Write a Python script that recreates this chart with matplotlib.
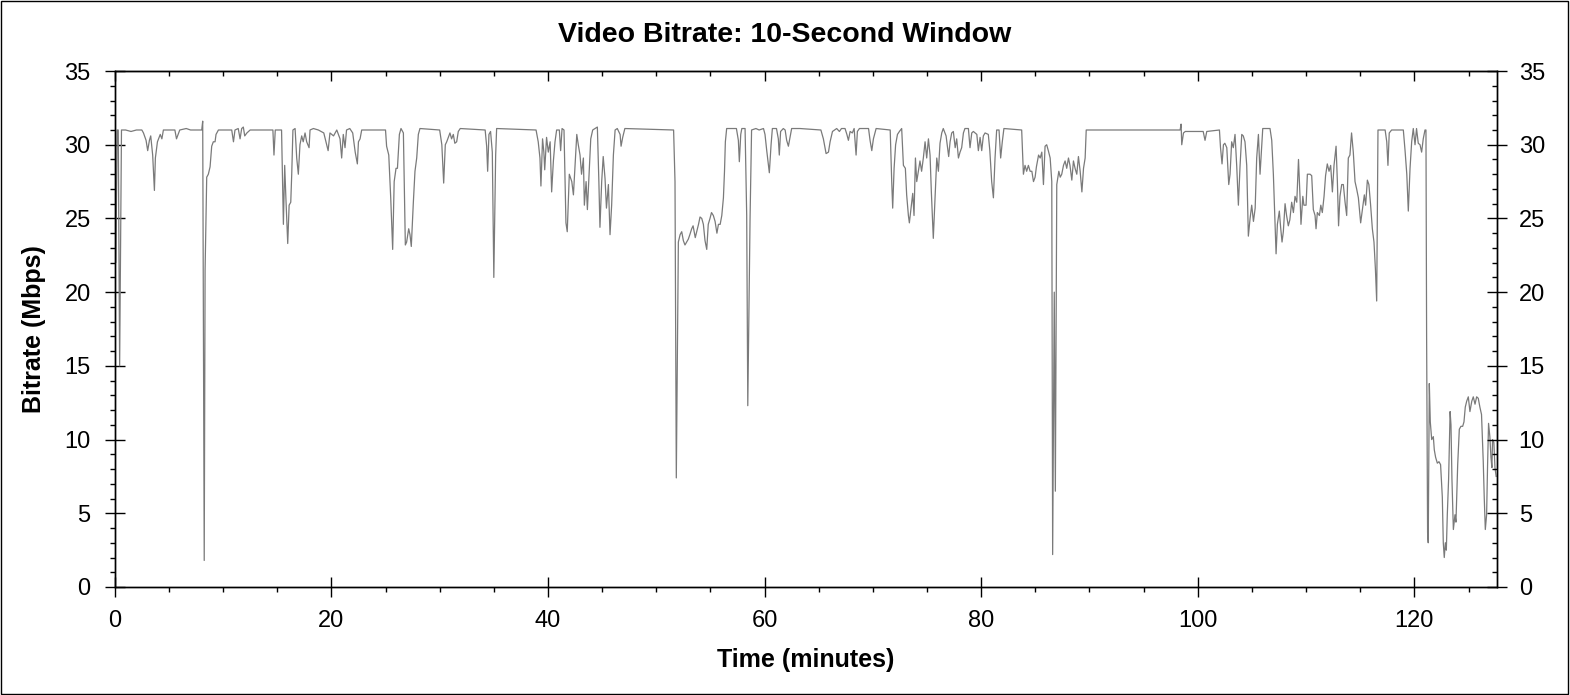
import matplotlib
matplotlib.use("Agg")
import matplotlib.pyplot as plt
from matplotlib.ticker import MultipleLocator
from matplotlib.patches import Rectangle

plt.rcParams['font.family'] = ['Liberation Sans', 'DejaVu Sans']

# time in minutes, bitrate in Mbps
time_min = [
	0.0, 0.1, 0.22, 0.32, 0.45, 0.62, 1.0, 1.5, 2.0, 2.5, 2.65, 2.89, 3.04, 3.2, 3.32, 3.5, 3.66, 3.75, 3.94, 4.2,
	4.35, 4.49, 5.0, 5.55, 5.7, 5.85, 6.0, 6.6, 7.0, 8.03, 8.12, 8.26, 8.34, 8.49, 8.64, 8.8, 8.95, 9.1, 9.26, 9.35,
	9.57, 10.5, 10.8, 10.96, 11.1, 11.4, 11.57, 11.72, 11.87, 12.0, 12.2, 12.5, 14.6, 14.7, 14.82, 15.4, 15.57, 15.69, 15.8, 15.97,
	16.1, 16.25, 16.34, 16.45, 16.65, 16.8, 16.95, 17.1, 17.26, 17.4, 17.57, 17.72, 17.94, 18.03, 18.34, 18.8, 19.3, 19.7, 19.87, 20.2,
	20.5, 20.8, 20.95, 21.1, 21.26, 21.4, 21.7, 21.97, 22.2, 22.4, 22.5, 22.65, 22.8, 25.0, 25.1, 25.3, 25.48, 25.66, 25.8, 25.97,
	26.1, 26.28, 26.43, 26.65, 26.83, 26.95, 27.14, 27.26, 27.38, 27.57, 27.72, 27.88, 28.03, 28.18, 30.0, 30.2, 30.37, 30.52, 30.65, 30.8,
	30.95, 31.1, 31.26, 31.4, 31.57, 31.72, 31.9, 34.2, 34.34, 34.43, 34.55, 34.7, 34.86, 35.0, 35.17, 35.26, 38.9, 39.1, 39.26, 39.35,
	39.5, 39.62, 39.7, 39.87, 40.03, 40.2, 40.34, 40.5, 40.65, 40.8, 41.05, 41.17, 41.3, 41.48, 41.66, 41.78, 41.97, 42.2, 42.35, 42.5,
	42.66, 42.8, 42.96, 43.1, 43.27, 43.36, 43.52, 43.64, 43.8, 43.95, 44.13, 44.35, 44.56, 44.7, 44.8, 44.96, 45.1, 45.27, 45.4, 45.58,
	45.73, 45.88, 46.04, 46.2, 46.4, 46.66, 46.75, 46.9, 47.1, 51.6, 51.73, 51.85, 52.04, 52.2, 52.35, 52.5, 52.65, 52.8, 52.96, 53.1,
	53.27, 53.4, 53.6, 53.73, 53.9, 54.04, 54.2, 54.35, 54.5, 54.66, 54.8, 54.96, 55.1, 55.27, 55.43, 55.6, 55.74, 55.9, 56.05, 56.2,
	56.3, 56.38, 56.5, 57.4, 57.58, 57.67, 57.8, 57.9, 58.2, 58.35, 58.45, 58.66, 58.8, 59.2, 59.5, 59.9, 60.04, 60.2, 60.44, 60.6,
	60.72, 61.1, 61.27, 61.36, 61.48, 61.73, 61.9, 62.04, 62.2, 62.35, 62.5, 63.27, 65.2, 65.43, 65.68, 65.9, 66.05, 66.27, 66.66, 66.91,
	67.1, 67.43, 67.6, 67.74, 67.9, 68.1, 68.27, 68.45, 68.57, 68.76, 69.6, 69.74, 69.9, 70.05, 70.3, 71.6, 71.74, 71.83, 71.96, 72.1,
	72.27, 72.45, 72.66, 72.82, 73.0, 73.12, 73.28, 73.37, 73.52, 73.68, 73.8, 73.93, 74.05, 74.2, 74.35, 74.5, 74.66, 74.82, 74.97, 75.13,
	75.28, 75.4, 75.58, 75.74, 75.9, 76.05, 76.2, 76.36, 76.5, 76.76, 76.88, 77.0, 77.13, 77.28, 77.43, 77.6, 77.74, 77.9, 78.05, 78.2,
	78.36, 78.5, 78.82, 78.97, 79.13, 79.28, 79.6, 79.74, 79.9, 80.05, 80.2, 80.36, 80.66, 80.8, 80.97, 81.13, 81.28, 81.43, 81.65, 81.8,
	81.95, 82.1, 83.74, 83.9, 84.05, 84.2, 84.36, 84.52, 84.68, 84.83, 84.98, 85.1, 85.3, 85.45, 85.6, 85.75, 85.9, 86.05, 86.2, 86.37,
	86.52, 86.6, 86.75, 86.85, 86.98, 87.17, 87.3, 87.44, 87.6, 87.75, 87.9, 88.06, 88.2, 88.37, 88.52, 88.67, 88.83, 88.98, 89.14, 89.3,
	89.45, 89.6, 89.7, 98.37, 98.46, 98.52, 98.68, 98.85, 100.5, 100.67, 100.83, 102.0, 102.1, 102.24, 102.37, 102.5, 102.68, 102.86, 102.98, 103.13,
	103.28, 103.44, 103.6, 103.75, 103.9, 104.06, 104.2, 104.36, 104.52, 104.67, 104.83, 104.98, 105.14, 105.3, 105.44, 105.6, 105.75, 105.9, 106.0, 106.67,
	106.83, 106.98, 107.13, 107.23, 107.35, 107.53, 107.65, 107.78, 107.9, 108.06, 108.2, 108.36, 108.5, 108.67, 108.83, 108.98, 109.14, 109.3, 109.44, 109.53,
	109.7, 109.8, 110.0, 110.12, 110.37, 110.52, 110.67, 110.83, 110.92, 111.04, 111.23, 111.36, 111.5, 111.66, 111.8, 111.96, 112.12, 112.27, 112.43, 112.58,
	112.77, 112.89, 113.0, 113.13, 113.29, 113.44, 113.6, 113.75, 113.9, 114.05, 114.2, 114.36, 114.52, 114.67, 114.83, 115.04, 115.22, 115.38, 115.5, 115.66,
	115.8, 115.96, 116.12, 116.27, 116.4, 116.52, 116.64, 117.3, 117.45, 117.56, 117.68, 117.9, 118.98, 119.14, 119.3, 119.44, 119.6, 119.75, 119.9, 120.06,
	120.2, 120.36, 120.52, 120.67, 120.82, 120.98, 121.07, 121.13, 121.22, 121.28, 121.38, 121.47, 121.6, 121.75, 121.84, 121.96, 122.12, 122.27, 122.42, 122.58,
	122.67, 122.76, 122.86, 122.95, 123.04, 123.16, 123.3, 123.38, 123.47, 123.6, 123.75, 123.84, 123.9, 124.0, 124.15, 124.3, 124.46, 124.58, 124.7, 124.83,
	124.98, 125.13, 125.3, 125.44, 125.6, 125.75, 125.9, 126.05, 126.2, 126.36, 126.45, 126.55, 126.67, 126.76, 126.85, 126.97, 127.07, 127.16, 127.22, 127.34,
	127.44, 127.55]
bitrate = [
	30.8, 22.0, 31.0, 31.0, 15.0, 31.0, 31.0, 30.9, 31.0, 31.0, 30.8, 30.3, 29.6, 30.3, 30.6, 29.3, 26.9, 29.1, 30.2, 30.7,
	30.4, 31.0, 31.0, 31.0, 30.4, 30.7, 31.0, 31.1, 31.0, 31.0, 31.6, 1.8, 21.5, 27.8, 28.0, 28.5, 29.9, 30.2, 30.2, 30.7,
	31.0, 31.0, 31.0, 30.2, 31.0, 31.1, 30.4, 31.1, 31.2, 30.6, 30.8, 31.0, 31.0, 29.3, 31.0, 31.0, 24.6, 28.6, 26.4, 23.3,
	25.9, 26.1, 28.0, 31.0, 31.1, 29.1, 28.0, 30.0, 30.6, 30.2, 30.8, 30.2, 29.8, 31.0, 31.1, 31.0, 30.8, 29.6, 30.8, 30.6,
	31.0, 30.4, 29.1, 30.7, 29.8, 31.0, 31.1, 30.8, 29.5, 28.7, 30.2, 30.4, 31.0, 31.0, 29.9, 29.3, 26.4, 22.9, 27.5, 28.4,
	28.4, 30.7, 31.1, 30.8, 23.2, 23.4, 24.3, 23.9, 23.1, 26.1, 28.2, 29.1, 30.7, 31.1, 31.0, 30.0, 27.4, 30.0, 30.2, 30.5,
	30.8, 30.4, 30.7, 30.1, 30.2, 30.9, 31.1, 31.0, 29.9, 28.2, 30.7, 30.9, 29.5, 21.0, 29.3, 31.1, 31.0, 30.2, 29.1, 27.2,
	30.4, 29.5, 28.3, 30.5, 29.5, 30.2, 26.8, 28.9, 30.2, 31.0, 31.0, 29.6, 31.1, 31.0, 24.7, 24.1, 28.0, 27.5, 26.6, 28.6,
	30.7, 30.0, 29.3, 28.0, 29.1, 25.9, 27.5, 25.6, 28.0, 30.4, 31.0, 31.1, 31.2, 27.5, 24.4, 27.5, 29.2, 27.7, 25.7, 27.3,
	23.9, 25.9, 29.3, 31.0, 31.1, 30.7, 29.9, 30.5, 31.1, 31.0, 27.5, 7.4, 23.4, 23.9, 24.1, 23.5, 23.2, 23.4, 23.6, 23.9,
	24.3, 24.5, 23.7, 24.1, 24.6, 25.1, 25.0, 24.6, 23.5, 22.9, 24.6, 25.0, 25.4, 25.2, 24.8, 24.0, 24.6, 24.6, 25.2, 26.4,
	28.2, 30.2, 31.1, 31.1, 30.3, 28.85, 30.7, 31.1, 31.1, 25.2, 12.3, 25.0, 31.0, 31.1, 31.0, 31.1, 30.7, 29.6, 28.1, 30.0,
	31.1, 31.1, 30.4, 29.3, 30.9, 31.1, 31.0, 30.3, 29.9, 30.5, 31.1, 31.1, 31.0, 30.4, 29.4, 29.5, 30.2, 30.9, 31.1, 30.9,
	31.1, 31.1, 30.7, 30.3, 30.9, 30.8, 31.1, 29.3, 30.9, 31.1, 31.1, 30.3, 29.6, 30.4, 31.1, 31.0, 27.5, 25.7, 28.4, 30.0,
	30.7, 30.9, 31.1, 28.6, 28.4, 26.6, 25.2, 24.7, 25.7, 26.7, 25.2, 29.1, 27.5, 28.2, 28.9, 28.2, 29.1, 30.2, 29.1, 30.4,
	29.3, 26.8, 23.65, 26.4, 29.1, 28.2, 30.1, 30.8, 31.1, 30.6, 29.9, 29.2, 30.2, 30.8, 30.9, 29.8, 30.4, 29.1, 29.5, 29.8,
	30.8, 31.1, 31.1, 29.8, 30.8, 30.9, 30.7, 29.6, 30.5, 29.6, 30.6, 30.8, 30.7, 29.6, 27.5, 26.4, 29.1, 31.0, 31.0, 29.1,
	30.2, 31.1, 31.0, 28.0, 28.6, 28.2, 28.6, 28.2, 28.2, 27.5, 27.8, 28.5, 29.3, 29.1, 29.5, 27.3, 29.9, 30.0, 29.6, 29.1,
	27.5, 2.2, 20.0, 6.5, 27.3, 28.2, 27.8, 28.0, 28.6, 28.9, 28.4, 29.1, 28.6, 27.6, 28.9, 28.4, 28.0, 29.2, 28.2, 26.8,
	28.4, 29.1, 31.0, 31.0, 31.4, 30.0, 30.8, 30.9, 30.9, 30.3, 30.9, 31.0, 29.8, 28.7, 30.0, 30.1, 29.8, 27.3, 28.0, 30.2,
	29.8, 30.7, 28.5, 25.9, 28.5, 30.7, 30.6, 30.2, 28.6, 23.8, 25.0, 25.9, 24.8, 25.7, 29.1, 30.7, 28.0, 29.9, 31.1, 31.1,
	30.3, 28.0, 24.8, 22.6, 24.6, 25.5, 24.4, 23.4, 24.1, 26.0, 25.2, 24.5, 24.9, 26.1, 25.4, 26.5, 26.1, 29.0, 26.5, 24.6,
	26.5, 25.9, 25.9, 28.0, 28.0, 27.9, 25.6, 25.2, 24.3, 25.4, 25.2, 25.9, 25.4, 26.5, 27.9, 28.7, 28.2, 28.6, 26.8, 28.6,
	29.9, 27.5, 24.5, 26.5, 27.3, 27.3, 26.1, 25.2, 29.1, 29.3, 30.8, 29.5, 27.5, 27.0, 26.4, 24.7, 25.7, 26.6, 25.9, 27.6,
	27.3, 25.9, 24.3, 23.4, 21.6, 19.4, 31.0, 31.0, 30.2, 28.6, 30.8, 31.0, 31.0, 29.6, 28.0, 25.5, 28.4, 30.2, 31.1, 30.0,
	31.1, 30.1, 30.0, 29.5, 30.4, 31.0, 31.0, 17.0, 3.7, 3.0, 13.8, 11.2, 10.0, 10.2, 9.3, 8.8, 8.4, 8.5, 8.3, 6.1,
	3.0, 2.0, 3.0, 2.5, 4.9, 7.3, 11.9, 11.0, 7.3, 3.9, 4.9, 4.4, 5.8, 8.3, 10.7, 10.9, 10.9, 11.2, 12.2, 12.6,
	12.9, 11.9, 12.6, 12.9, 12.4, 12.9, 12.8, 12.2, 11.7, 8.5, 6.1, 3.9, 4.9, 8.3, 11.1, 10.2, 8.8, 8.1, 10.0, 9.8,
	8.1, 7.5]

x_max = 127.6
y_max = 35

fig = plt.figure(figsize=(15.7, 6.95), dpi=100)
ax = fig.add_axes([0.0731, 0.1554, 0.9533 - 0.0731, 0.8978 - 0.1554])

ax.plot(time_min, bitrate, color='#7a7a7a', lw=0.9)

ax.set_xlim(0, x_max)
ax.set_ylim(0, y_max)
ax.xaxis.set_major_locator(MultipleLocator(20))
ax.xaxis.set_minor_locator(MultipleLocator(5))
ax.yaxis.set_major_locator(MultipleLocator(5))
ax.yaxis.set_minor_locator(MultipleLocator(1))

# left / bottom: major crossing the spine, minor outward
ax.tick_params(which='major', direction='inout', length=13.7, width=1, labelsize=17)
ax.tick_params(which='minor', direction='out', length=3.6, width=1)
ax.tick_params(axis='x', which='major', pad=10)
ax.tick_params(axis='y', which='major', pad=10.5)

# top: ticks inside only
top = ax.secondary_xaxis('top')
top.xaxis.set_major_locator(MultipleLocator(20))
top.xaxis.set_minor_locator(MultipleLocator(5))
top.tick_params(which='major', direction='in', length=7.2, width=1, labeltop=False)
top.tick_params(which='minor', direction='in', length=3.6, width=1)

# right: labelled axis, major crossing, minor inside
right = ax.twinx()
right.set_ylim(0, y_max)
right.yaxis.set_major_locator(MultipleLocator(5))
right.yaxis.set_minor_locator(MultipleLocator(1))
right.tick_params(which='major', direction='inout', length=13.7, width=1, labelsize=17, pad=9)
right.tick_params(which='minor', direction='in', length=3.6, width=1)

for a in (ax, right):
	for s in a.spines.values():
		s.set_linewidth(1)

fig.text(0.5, 0.949, 'Video Bitrate: 10-Second Window', ha='center', va='center',
	fontsize=20.5, fontweight='bold')
ax.set_xlabel('Time (minutes)', fontsize=18, fontweight='bold')
ax.xaxis.set_label_coords(0.5, -0.118)
ax.set_ylabel('Bitrate (Mbps)', fontsize=18, fontweight='bold')
ax.yaxis.set_label_coords(-0.0497, 0.5)

fig.add_artist(Rectangle((0.5 / 1570, 1.5 / 695), 1567 / 1570, 693 / 695,
	transform=fig.transFigure, fill=False, edgecolor='black', lw=1))

fig.savefig('out.png', dpi=100)
